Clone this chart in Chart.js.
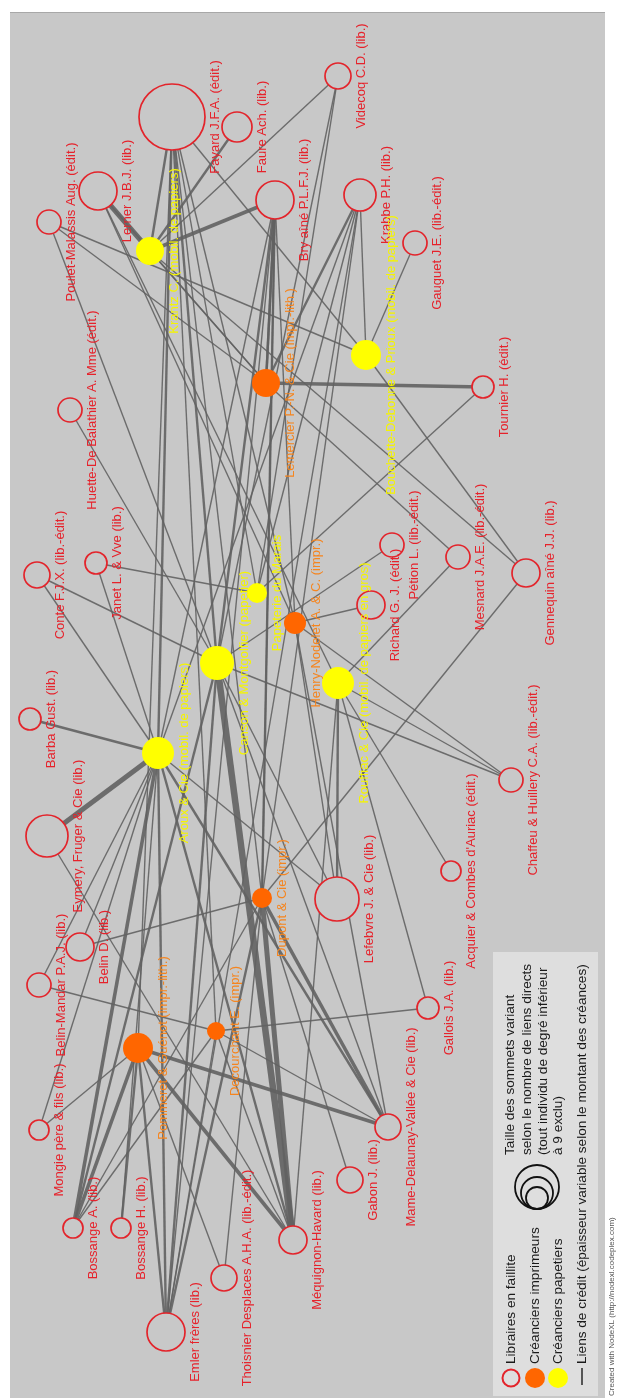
<!DOCTYPE html>
<html><head><meta charset="utf-8">
<script src="https://cdn.jsdelivr.net/npm/chart.js@4"></script>
<style>html,body{margin:0;padding:0;background:#fff;}canvas{display:block}</style>
</head><body>
<canvas id="c" width="619" height="1400"></canvas>
<script>
// ---- Nodes (layout position) ----
const nodeIds = ["fay","fau","vid","kra","gau","bry","pou","ler","krz","lem","hue","bou","tou","con","jan","can","pap","hen","rou","ric","pet","mes","gen","bar","aro","eym","dup","lef","acq","cha","bld","blm","pom","dec","mon","gal","mam","bsa","bsh","eml","tho","meq","gab"];
const nodeNames = ["Fayard J.F.A. (édit.)","Faure Ach. (lib.)","Videcoq C.D. (lib.)","Krabbe P.H. (lib.)","Gauguet J.E. (lib.-édit.)","Bry aîné P.L.F.J. (lib.)","Poulet-Malassis Aug. (édit.)","Lerner J.B.J. (lib.)","Krantz C. (mobil. de papiers)","Lemercier P.-N. & Cie (impr.-lith.)","Huette-De Balathier A. Mme (édit.)","Bouchette-Debonne & Prioux (mobil. de papiers)","Tournier H. (édit.)","Conte F.J.X. (lib.-édit.)","Janet L. & Vve (lib.)","Canson & Montgolfier (papetier)","Papeterie du Marais","Henry-Nodelet A. & C. (impr.)","Rouffiac & Cie (mobil. de papiers en gros)","Richard G. J. (édit.)","Pétion L. (lib.-édit.)","Mesnard J.A.E. (lib.-édit.)","Gennequin aîné J.J. (lib.)","Barba Gust. (lib.)","Aroux & Cie (mobil. de papiers)","Eymery, Fruger & Cie (lib.)","Dupont & Cie (impr.)","Lefebvre J. & Cie (lib.)","Acquier & Combes d'Auriac (édit.)","Chaffeu & Huillery C.A. (lib.-édit.)","Belin D. (lib.)","Belin-Mandar P.A.J. (lib.)","Pommeret & Guénot (impr.-lith.)","Decourchant E. (impr.)","Mongie père & fils (lib.)","Gallois J.A. (lib.)","Mame-Delaunay-Vallée & Cie (lib.)","Bossange A. (lib.)","Bossange H. (lib.)","Emler frères (lib.)","Thoisnier Desplaces A.H.A. (lib.-édit.)","Méquignon-Havard (lib.)","Gabon J. (lib.)"];
// L = libraire en faillite, I = créancier imprimeur, P = créancier papetier
const nodeTypes = ["L","L","L","L","L","L","L","L","P","I","L","P","L","L","L","P","P","I","P","L","L","L","L","L","P","L","I","L","L","L","L","L","I","I","L","L","L","L","L","L","L","L","L"];
const nodeX = [172,237,338,360,415,275,49,98,150,266,70,366,483,37,96,217,257,295,338,371,392,458,526,30,158,47,262,337,451,511,80,39,138,216,39,428,388,73,121,166,224,293,350];
const nodeY = [117,127,76,195,243,200,222,191,251,383,410,355,387,575,563,663,593,623,683,605,545,557,573,719,753,836,898,899,871,780,947,985,1048,1031,1130,1008,1127,1228,1228,1332,1278,1240,1180];
const nodeSize = [33,15,13,16,12,19,12,19,14,14,12,15,11,13,11,17,10,11,16,14,12,12,14,11,16,21,10,22,10,12,14,12,15,9,10,11,13,10,10,19,13,14,13];

// ---- Credit links ----
const edgeSource = ["krz","krz","krz","krz","krz","fay","fay","fay","fay","fay","fay","fay","fay","vid","vid","kra","kra","kra","kra","gau","bry","bry","bry","bry","bry","pou","pou","pou","ler","ler","ler","hue","tou","tou","con","con","jan","jan","ric","pet","mes","mes","gen","gen","bar","eym","eym","lef","lef","lef","lef","acq","cha","cha","cha","bld","bld","blm","blm","mon","mon","gal","gal","mam","mam","mam","mam","mam","mam","bsa","bsa","bsa","bsa","bsa","bsh","bsh","eml","eml","eml","eml","eml","eml","eml","tho","tho","meq","meq","meq","meq","meq","meq","gab","dup","dup","krz","gen","lem"];
const edgeTarget = ["ler","bry","fau","vid","fay","aro","can","dup","pom","dec","bou","pap","hen","can","pap","bou","lem","pap","aro","bou","lem","can","aro","hen","dup","lem","can","bou","lem","hen","rou","can","lem","pap","can","aro","pap","aro","hen","can","lem","rou","bou","dup","aro","aro","meq","rou","aro","can","hen","rou","rou","can","hen","aro","dup","dec","aro","pom","aro","dec","rou","dup","pom","dec","aro","hen","can","pom","aro","can","dup","dec","pom","aro","aro","can","pom","dec","dup","bry","kra","dup","pom","can","dup","pom","aro","dec","rou","dup","bry","kra","lem","krz","bry"];
const edgeWeight = [4,3,2,1,2,2,2,1,1,1,1,1,1,1,1,1,2,1,1,1,2,2,1,1,1,1,1,1,1,1,1,1,3,1,1,1,1,1,1,1,1,1,1,1,2,4,1,2,1,1,1,1,1,1,1,1,1,1,1,1,1,1,1,3,3,1,2,1,1,3,3,2,1,1,2,1,2,2,2,1,2,1,1,1,1,5,4,3,2,1,1,1,2,1,1,1,2];

const typeFill = {L:"#c8c8c8", I:"#ff6600", P:"#ffff00"};
const typeStroke = {L:"#e3242b", I:"#ff6600", P:"#ffff00"};
const typeLabel = {L:"#e6222b", I:"#f5851f", P:"#f5f500"};
const widthFor = w => [0,1.4,2.4,3.6,5,6.5][w];

const idx = id => nodeIds.indexOf(id);
const datasets = [];
for (let k = 0; k < edgeSource.length; k++) {
  const a = idx(edgeSource[k]), b = idx(edgeTarget[k]);
  datasets.push({
    data: [{x: nodeX[a], y: nodeY[a]}, {x: nodeX[b], y: nodeY[b]}],
    showLine: true, pointRadius: 0, borderColor: "rgba(98,98,98,0.9)",
    borderWidth: widthFor(edgeWeight[k]), order: 2, clip: false
  });
}
datasets.push({
  type: "bubble",
  data: nodeIds.map((id, i) => ({x: nodeX[i], y: nodeY[i], r: nodeSize[i]})),
  backgroundColor: nodeTypes.map(t => typeFill[t]),
  borderColor: nodeTypes.map(t => typeStroke[t]),
  borderWidth: nodeTypes.map(t => t === "L" ? 1.7 : 0),
  order: 1, clip: false
});

const bgPlugin = {
  id: "bg",
  beforeDraw(chart) {
    const {ctx, scales: {x, y}} = chart;
    ctx.save();
    ctx.fillStyle = "#fff"; ctx.fillRect(0, 0, chart.width, chart.height);
    const x0 = x.getPixelForValue(10), x1 = x.getPixelForValue(605);
    const y0 = y.getPixelForValue(12), y1 = y.getPixelForValue(1398);
    ctx.fillStyle = "#c8c8c8"; ctx.fillRect(x0, y0, x1 - x0, y1 - y0);
    ctx.fillStyle = "#a8a8a8"; ctx.fillRect(x0, y0, x1 - x0, 1);
    ctx.restore();
  }
};

const labelPlugin = {
  id: "labels",
  afterDatasetsDraw(chart) {
    const {ctx, scales: {x, y}} = chart;
    ctx.save();
    ctx.font = "13px 'Liberation Sans', Arial, sans-serif";
    ctx.textAlign = "center"; ctx.textBaseline = "middle";
    nodeIds.forEach((id, i) => {
      const px = x.getPixelForValue(nodeX[i]) + nodeSize[i] + 10;
      const py = y.getPixelForValue(nodeY[i]);
      ctx.save(); ctx.translate(px, py); ctx.rotate(-Math.PI / 2);
      ctx.fillStyle = typeLabel[nodeTypes[i]];
      ctx.fillText(nodeNames[i], 0, 0);
      ctx.restore();
    });
    ctx.restore();
  }
};

const legendItems = ["Libraires en faillite","Créanciers imprimeurs","Créanciers papetiers","Liens de crédit (épaisseur variable selon le montant des créances)"];
const sizeNote = ["Taille des sommets variant","selon le nombre de liens directs","(tout individu de degré inférieur","à 9 exclu)"];

const legendPlugin = {
  id: "legendBox",
  afterDraw(chart) {
    const {ctx} = chart;
    ctx.save();
    ctx.fillStyle = "#dedede"; ctx.fillRect(493, 952, 105, 444);
    ctx.font = "13.6px 'Liberation Sans', Arial, sans-serif";
    ctx.textAlign = "left"; ctx.textBaseline = "middle";
    const cols = [511, 535, 558, 582];
    ctx.beginPath(); ctx.arc(cols[0], 1378, 8.5, 0, Math.PI * 2);
    ctx.strokeStyle = "#e3242b"; ctx.lineWidth = 2; ctx.stroke();
    ctx.beginPath(); ctx.arc(cols[1], 1378, 10, 0, Math.PI * 2); ctx.fillStyle = "#ff6600"; ctx.fill();
    ctx.beginPath(); ctx.arc(cols[2], 1378, 10, 0, Math.PI * 2); ctx.fillStyle = "#ffff00"; ctx.fill();
    ctx.beginPath(); ctx.moveTo(cols[3], 1385); ctx.lineTo(cols[3], 1368);
    ctx.strokeStyle = "#555"; ctx.lineWidth = 2; ctx.stroke();
    ctx.fillStyle = "#1a1a1a";
    legendItems.forEach((t, i) => {
      ctx.save(); ctx.translate(cols[i], 1364); ctx.rotate(-Math.PI / 2);
      ctx.fillText(t, 0, 0); ctx.restore();
    });
    ctx.strokeStyle = "#111"; ctx.lineWidth = 1.8;
    [[22, 1187], [16, 1193], [11, 1198]].forEach(([r, cy]) => {
      ctx.beginPath(); ctx.arc(537, cy, r, 0, Math.PI * 2); ctx.stroke();
    });
    const noteCols = [510, 527, 543, 558];
    sizeNote.forEach((t, i) => {
      ctx.save(); ctx.translate(noteCols[i], 1155); ctx.rotate(-Math.PI / 2);
      ctx.fillText(t, 0, 0); ctx.restore();
    });
    ctx.font = "8px 'Liberation Sans', Arial, sans-serif"; ctx.fillStyle = "#555";
    ctx.save(); ctx.translate(612, 1396); ctx.rotate(-Math.PI / 2);
    ctx.fillText("Created with NodeXL (http://nodexl.codeplex.com)", 0, 0); ctx.restore();
    ctx.restore();
  }
};

new Chart(document.getElementById("c"), {
  type: "scatter",
  data: {datasets},
  options: {
    responsive: false, animation: false, devicePixelRatio: 1,
    layout: {padding: 0, autoPadding: false},
    events: [],
    scales: {
      x: {type: "linear", min: 0, max: 619, display: false},
      y: {type: "linear", min: 0, max: 1400, reverse: true, display: false}
    },
    plugins: {legend: {display: false}, tooltip: {enabled: false}}
  },
  plugins: [bgPlugin, labelPlugin, legendPlugin]
});
</script>
</body></html>
